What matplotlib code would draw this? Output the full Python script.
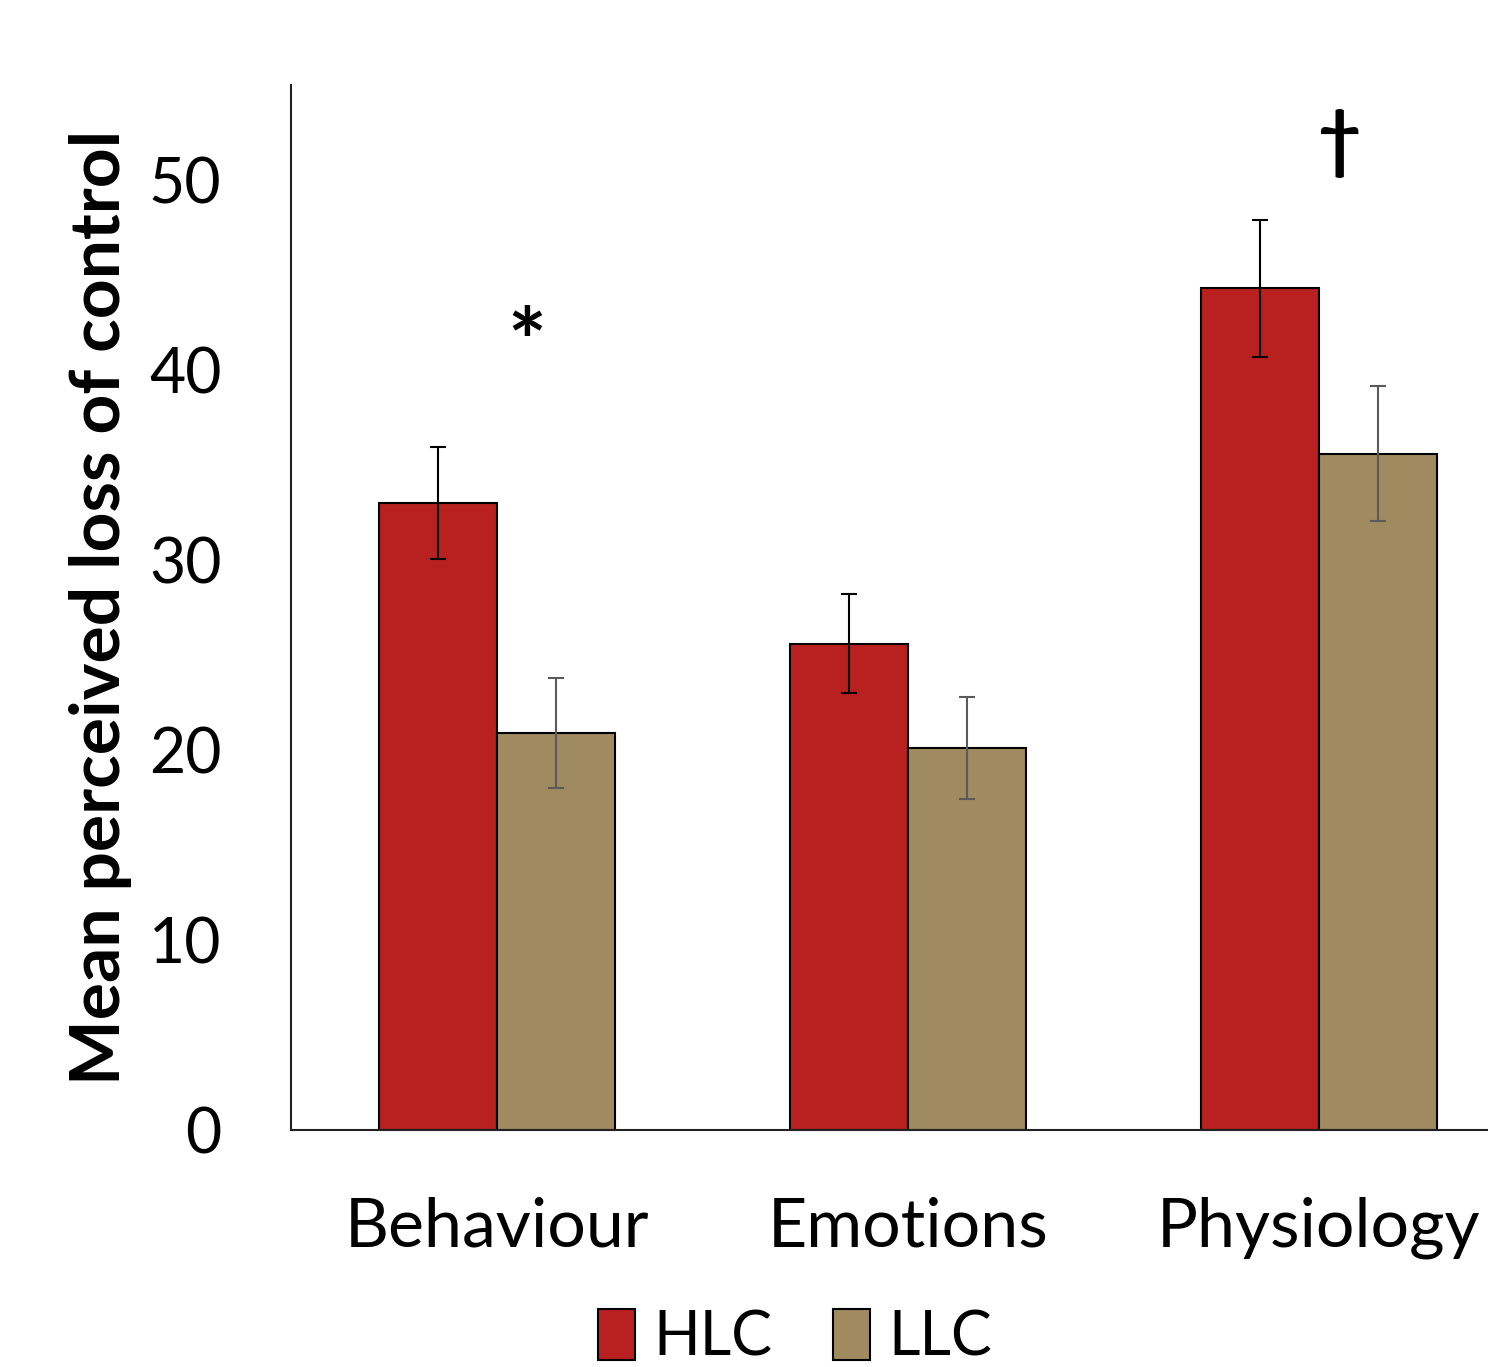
import numpy as np
import matplotlib
matplotlib.use("Agg")
import matplotlib.pyplot as plt

# data
categories = ["Behaviour", "Emotions", "Physiology"]
hlc_mean = [33.0, 25.6, 44.3]
hlc_err = [2.95, 2.6, 3.6]
llc_mean = [20.9, 20.1, 35.6]
llc_err = [2.9, 2.7, 3.55]
series_names = ["HLC", "LLC"]
y_ticks = [0, 10, 20, 30, 40, 50]
# significance marks: (group index, label, y)
marks = [(0, "*", 41.1), (2, "\u2020", 51.9)]

red = "#b92020"
tan = "#a08b60"

plt.rcParams['font.family'] = ['Lato', 'DejaVu Sans']

fig = plt.figure(figsize=(14.88, 13.67), dpi=100)
ax = fig.add_axes([291 / 1488, 1 - 1130 / 1367, 1 - 291 / 1488, (1130 - 85) / 1367])

x = np.arange(len(categories))
w = 0.287
ax.bar(x - w / 2, hlc_mean, w, color=red, edgecolor="black", linewidth=1.5,
       label=series_names[0], zorder=2)
ax.bar(x + w / 2, llc_mean, w, color=tan, edgecolor="black", linewidth=1.5,
       label=series_names[1], zorder=2)
ax.errorbar(x - w / 2, hlc_mean, yerr=hlc_err, fmt="none", ecolor="black",
            elinewidth=1.5, capsize=6, capthick=1.5, zorder=3)
ax.errorbar(x + w / 2, llc_mean, yerr=llc_err, fmt="none", ecolor="#5a5a5a",
            elinewidth=1.5, capsize=6, capthick=1.5, zorder=3)

for gi, txt, yy in marks:
    if txt == "*":
        ax.text(gi + 0.073, yy, txt, ha="center", va="center", fontsize=66,
                fontweight="bold")
    else:
        ax.text(gi + 0.05, yy, txt, ha="center", va="center", fontsize=54,
                fontweight="bold")

ax.set_xlim(-0.5, 2.411)
ax.set_ylim(0, 55)
ax.set_yticks(y_ticks)
ax.set_xticks(x)
ax.set_xticklabels(categories)
ax.tick_params(axis="both", length=0)
ax.tick_params(axis="y", pad=50, labelsize=45)
ax.tick_params(axis="x", pad=48, labelsize=49)
for s in ["top", "right"]:
    ax.spines[s].set_visible(False)
for s in ["left", "bottom"]:
    ax.spines[s].set_linewidth(1.5)
    ax.spines[s].set_color("#222222")

fig.text(101 / 1488, 1 - 607 / 1367, "Mean perceived loss of control", rotation=90,
         ha="center", va="center", fontsize=50, fontweight="bold")

ax.legend(loc="center", bbox_to_anchor=(795 / 1488, 1 - 1338 / 1367),
          bbox_transform=fig.transFigure, ncol=2, frameon=False, fontsize=44,
          handlelength=0.6, handleheight=0.9, handletextpad=0.3, columnspacing=1.0)

fig.savefig("out.png", dpi=100)
